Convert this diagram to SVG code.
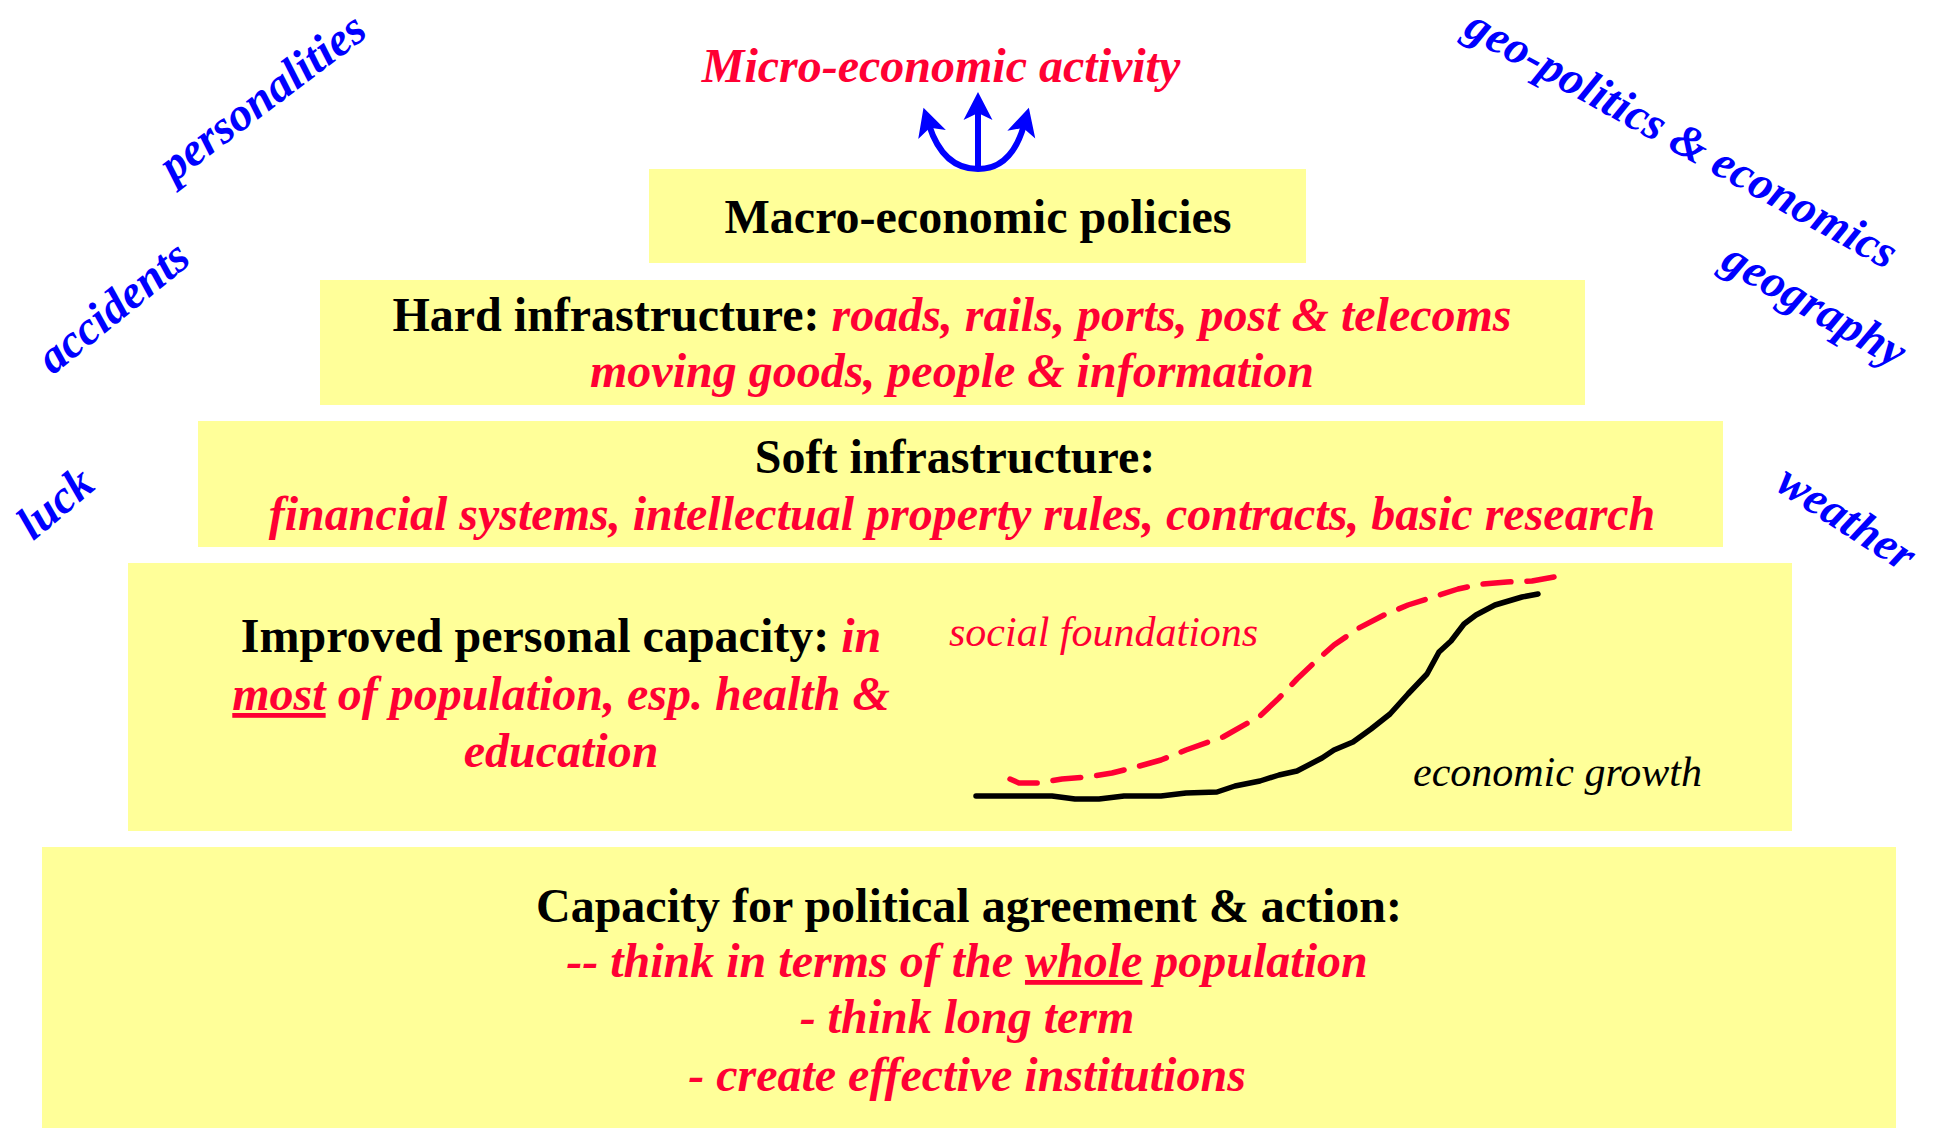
<svg xmlns="http://www.w3.org/2000/svg" width="1937" height="1128" viewBox="0 0 1937 1128">
<style>
.box{fill:#FFFF99}
.t{font-family:"Liberation Serif","Times New Roman",serif;font-size:48px;text-anchor:middle}
.b{font-weight:bold;fill:#000}
.r{font-weight:bold;font-style:italic;fill:#FF0033}
.side{font-family:"Liberation Serif","Times New Roman",serif;font-size:47px;font-weight:bold;font-style:italic;fill:#0000FF;text-anchor:middle}
.lbl{font-family:"Liberation Serif","Times New Roman",serif;font-size:42px;font-style:italic;text-anchor:start}
.arr{fill:none;stroke:#0000FF;stroke-width:6;marker-end:url(#ah)}
</style>
<defs>
<marker id="ah" markerUnits="userSpaceOnUse" viewBox="-30 -16 32 32" markerWidth="32" markerHeight="32" refX="-18" refY="0" orient="auto">
<path d="M0,0 L-28,-14.5 L-21,0 L-28,14.5 Z" fill="#0000FF"/>
</marker>
</defs>
<rect width="1937" height="1128" fill="#fff"/>

<g id="micro">
<text class="t r" x="941" y="82">Micro-economic activity</text>
</g>

<g id="macro">
<rect class="box" x="649" y="169" width="657" height="94"/>
<text class="t b" x="978" y="233">Macro-economic policies</text>
</g>

<g id="hard">
<rect class="box" x="320" y="280" width="1265" height="125"/>
<text class="t" x="952" y="331"><tspan class="b">Hard infrastructure: </tspan><tspan class="r">roads, rails, ports, post &amp; telecoms</tspan></text>
<text class="t r" x="952" y="387">moving goods, people &amp; information</text>
</g>

<g id="soft">
<rect class="box" x="198" y="421" width="1525" height="126"/>
<text class="t b" x="955" y="473">Soft infrastructure:</text>
<text class="t r" x="962" y="530">financial systems, intellectual property rules, contracts, basic research</text>
</g>

<g id="personal">
<rect class="box" x="128" y="563" width="1664" height="268"/>
<text class="t" x="561" y="652"><tspan class="b">Improved personal capacity: </tspan><tspan class="r">in</tspan></text>
<text class="t r" x="561" y="710"><tspan text-decoration="underline">most</tspan> of population, esp. health &amp;</text>
<text class="t r" x="561" y="767">education</text>
<path d="M976,796 L1052,796 L1075,799 L1099,799 L1124,796 L1161,796 L1186,793 L1217,792 L1235,786 L1260,781 L1279,775 L1297,771 L1322,758 L1334,750 L1353,742 L1371,729 L1390,714 L1408,694 L1427,674 L1439,652 L1451,641 L1464,624 L1476,615 L1495,605 L1522,597 L1538,594" fill="none" stroke="#000" stroke-width="5.5" stroke-linecap="round" stroke-linejoin="round"/>
<path d="M1010,779 L1019,783 L1038,783 L1062,779 L1087,777 L1112,773 L1136,767 L1161,760 L1186,750 L1223,737 L1260,716 L1279,698 L1297,679 L1316,661 L1334,645 L1359,628 L1384,615 L1408,605 L1433,597 L1458,589 L1482,584 L1507,582 L1532,581 L1554,577" fill="none" stroke="#FF0033" stroke-width="5.5" stroke-linecap="round" stroke-linejoin="round" stroke-dasharray="28 16"/>
<text class="lbl" x="949" y="646" fill="#FF0033">social foundations</text>
<text class="lbl" x="1413" y="786" fill="#000">economic growth</text>
</g>

<g id="political">
<rect class="box" x="42" y="847" width="1854" height="281"/>
<text class="t b" x="969" y="922">Capacity for political agreement &amp; action:</text>
<text class="t r" x="967" y="977">-- think in terms of the <tspan text-decoration="underline">whole</tspan> population</text>
<text class="t r" x="967" y="1033">- think long term</text>
<text class="t r" x="967" y="1091">- create effective institutions</text>
</g>

<g id="connectors">
<path class="arr" d="M978,170 L978,110"/>
<path class="arr" d="M978,169 C951,169 937,150 929,125"/>
<path class="arr" d="M978,169 C1003,169 1017,150 1024,125"/>
</g>

<g id="factors">
<text class="side" transform="translate(263,98) rotate(-37)" y="14">personalities</text>
<text class="side" transform="translate(114,308) rotate(-39)" y="14">accidents</text>
<text class="side" transform="translate(56,504) rotate(-40)" y="14">luck</text>
<text class="side" transform="translate(1681,140) rotate(29)" y="14">geo-politics &amp; economics</text>
<text class="side" transform="translate(1814,306) rotate(30)" y="14">geography</text>
<text class="side" transform="translate(1846,519) rotate(33)" y="14">weather</text>
</g>
</svg>
